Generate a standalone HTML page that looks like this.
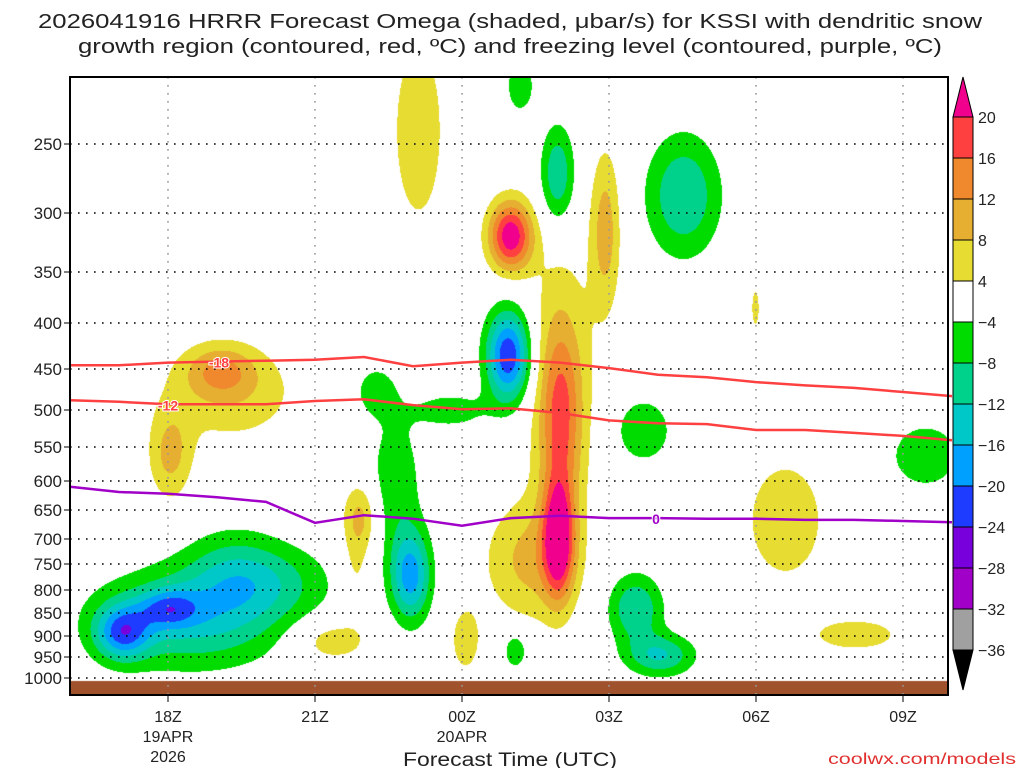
<!DOCTYPE html>
<html><head><meta charset="utf-8"><style>
body{margin:0;background:#fff;width:1024px;height:768px;overflow:hidden;font-family:"Liberation Sans",sans-serif}
#wrap{position:relative;width:1024px;height:768px}
canvas,svg{position:absolute;left:0;top:0}
</style></head><body><div id="wrap">
<canvas id="cv" width="1024" height="768"></canvas>
<svg id="sv" width="1024" height="768"></svg>
</div>
<script>
// ---- data ----
const pTicks=[250,300,350,400,450,500,550,600,650,700,750,800,850,900,950,1000];
const timeTickHours=[2,5,8,11,14,17];
const timeTickLabels=["18Z","21Z","00Z","03Z","06Z","09Z"];
const cbLevels=[20,16,12,8,4,-4,-8,-12,-16,-20,-24,-28,-32,-36];
const lineHours=[0,1,2,3,4,5,6,7,8,9,10,11,12,13,14,15,16,17,18];
const isoM18=[446,446,443,442,441,440,437,447,443,440,443,449,457,460,466,470,473,478,483];
const isoM12=[488,490,493,493,493,489,487,494,499,498,504,514,518,519,527,527,531,535,541];
const iso0=[610,619,622,628,636,672,659,665,677,664,660,664,664,665,665,667,667,669,671];
// omega features: [hour, pressure hPa, amplitude ubar/s, spread hours, spread lnP]
const omegaBlobs=[
[1.06,891,-17,0.55,0.07],[2.0,839,-11,0.6,0.05],[2.45,860,-13,1.9,0.13],[4.08,781,-7,1.3,0.1],[3.3,760,-6,1.0,0.12],
[6.94,771,-18,0.41,0.119],[6.63,599,-7,0.55,0.185],[6.22,476,-6,0.45,0.07],[7.76,500,-6,0.82,0.053],
[8.94,435,-24,0.45,0.119],[9.18,214,-7,0.31,0.079],[9.94,272,-12,0.35,0.13],[12.51,287,-12,0.75,0.16],
[11.69,527,-7.5,0.6,0.09],[17.45,562,-7.5,0.75,0.09],[11.53,839,-12,0.55,0.09],[12.04,945,-12,0.7,0.055],
[9.08,933,-8,0.25,0.05],
[7.1,241,8,0.52,0.25],[8.98,319,23,0.45,0.092],[10.92,314,10,0.31,0.211],[9.96,702,21,0.31,0.15],
[10.0,514,12,0.41,0.237],[9.39,742,9,0.95,0.158],[10.0,463,7,0.71,0.369],[8.06,910,6,0.35,0.1],
[13.98,385,6,0.1,0.066],[3.06,451,9,0.71,0.066],[2.04,562,9,0.45,0.12],[3.27,480,7,1.4,0.13],
[5.92,659,9,0.35,0.09],[5.82,762,5,0.3,0.12],[5.31,910,7,0.8,0.06],[14.59,667,8,0.8,0.16],
[16.02,896,7,0.95,0.045]
];
// ---- layout ----
const X0=70,X1=948,Y0=77,Y1=695,HPX=49;
const tickY=[144,213,272,323,369,410,447,481,510,539,564,590,613,636,657,678];
const LNPX=379;
function xOf(h){return X0+h*HPX;}
function yOf(p){
  if(p<=pTicks[0])return tickY[0]-LNPX*Math.log(pTicks[0]/p);
  for(let i=0;i<pTicks.length-1;i++){if(p<=pTicks[i+1]){const f=(p-pTicks[i])/(pTicks[i+1]-pTicks[i]);return tickY[i]+f*(tickY[i+1]-tickY[i]);}}
  return tickY[tickY.length-1]+(p-1000)*0.42;
}
const fillCols=["#f0008c","#ff4040","#f0882d","#e6af32","#e6dc32","#ffffff","#00dc00","#00d28c","#00c8c8","#00a0ff","#1e3cff","#7800dc","#a000c8","#a0a0a0","#000000"];
// ---- shading ----
const cv=document.getElementById('cv'),ctx=cv.getContext('2d');
const W=X1-X0,H=Y1-Y0,img=ctx.createImageData(W,H);
const bl=omegaBlobs.map(b=>({x:xOf(b[0]),y:yOf(b[1]),a:b[2],sx:b[3]*HPX,sy:b[4]*LNPX}));
function hex(c){return[parseInt(c.substr(1,2),16),parseInt(c.substr(3,2),16),parseInt(c.substr(5,2),16)];}
const rgb=fillCols.map(hex);
for(let j=0;j<H;j++){const py=Y0+j;for(let i=0;i<W;i++){const px=X0+i;let v=0;
 for(const b of bl){const dx=(px-b.x)/b.sx,dy=(py-b.y)/b.sy;const d=dx*dx+dy*dy;if(d<9)v+=b.a*Math.exp(-d);}
 let k=14;for(let l=0;l<cbLevels.length;l++){if(v>cbLevels[l]){k=l;break;}}
 const c=rgb[k],o=(j*W+i)*4;img.data[o]=c[0];img.data[o+1]=c[1];img.data[o+2]=c[2];img.data[o+3]=255;}}
ctx.putImageData(img,X0,Y0);
ctx.fillStyle="#a0522d";ctx.fillRect(X0,681,W,Y1-681);
// ---- svg ----
const NS="http://www.w3.org/2000/svg",sv=document.getElementById('sv');
function mk(t,a,parent){const e=document.createElementNS(NS,t);for(const k in a)e.setAttribute(k,a[k]);(parent||sv).appendChild(e);return e;}
let e;
pTicks.forEach((p,i)=>{const y=yOf(p);
 e=mk('line',{x1:X0,x2:X1,y1:y,y2:y,stroke:'#000','stroke-width':1.6,'stroke-dasharray':'1.6 6.4'});
 
 
 e=mk('line',{x1:X0-6,x2:X0,y1:y,y2:y,stroke:'#000','stroke-width':1});
 
 
 e=mk('text',{x:X0-8,y:y+6,'text-anchor':'end','font-size':17,fill:'#222'});e.textContent=String(p);
 
 
});
timeTickHours.forEach((h,i)=>{const x=xOf(h);
 e=mk('line',{x1:x,x2:x,y1:Y0,y2:Y1,stroke:'#999','stroke-width':1.6,'stroke-dasharray':'1.6 6.4'});
 
 
 e=mk('line',{x1:x,x2:x,y1:Y1,y2:Y1+7,stroke:'#000','stroke-width':1});
 
 
 e=mk('text',{x:x,y:722,'text-anchor':'middle','font-size':16,fill:'#222'});e.textContent=timeTickLabels[i];
 
 
});
[[2,"19APR",742],[2,"2026",762],[8,"20APR",742]].forEach(d=>{e=mk('text',{x:xOf(d[0]),y:d[2],'text-anchor':'middle','font-size':16,fill:'#222'});e.textContent=d[1];
 
 });
function iso(arr,col,name,lh,label){
 const d=arr.map((p,i)=>(i?'L':'M')+xOf(lineHours[i]).toFixed(1)+','+yOf(p).toFixed(1)).join(' ');
 e=mk('path',{d:d,fill:'none',stroke:col,'stroke-width':2.5});
 
 
 const i0=Math.floor(lh),f=lh-i0,p=arr[i0]+f*(arr[i0+1]-arr[i0]);const x=xOf(lh),y=yOf(p);
 e=mk('text',{x:x,y:y+6,'text-anchor':'middle','font-size':14,'font-weight':'bold',fill:col,stroke:'#fff','stroke-width':2,'paint-order':'stroke'});e.textContent=label;
 
 
}
iso(isoM18,'#ff4040','isotherm-minus18',3.04,'-18');
iso(isoM12,'#ff4040','isotherm-minus12',2.0,'-12');
iso(iso0,'#a000c8','freezing-level',11.96,'0');
e=mk('rect',{x:X0,y:Y0,width:W,height:H,fill:'none',stroke:'#000','stroke-width':2});


const CB0=953,CBW=20,cbY0=117,cbStep=41;
const cbg=mk('g',{});
e=mk('polygon',{points:`${CB0},${cbY0} ${CB0+CBW},${cbY0} ${CB0+CBW/2},77`,fill:fillCols[0],stroke:'#000','stroke-width':1},cbg);


for(let i=0;i<cbLevels.length-1;i++){
 e=mk('rect',{x:CB0,y:cbY0+i*cbStep,width:CBW,height:cbStep,fill:fillCols[i+1],stroke:'#000','stroke-width':1},cbg);
 
 
}
const cbEnd=cbY0+(cbLevels.length-1)*cbStep;
e=mk('polygon',{points:`${CB0},${cbEnd} ${CB0+CBW},${cbEnd} ${CB0+CBW/2},690`,fill:'#000',stroke:'#000','stroke-width':1},cbg);


cbLevels.forEach((l,i)=>{e=mk('text',{x:978,y:cbY0+i*cbStep+6,'font-size':16,fill:'#222'},cbg);e.textContent=(l<0?'\u2212':'')+Math.abs(l);
 
 });
e=mk('text',{x:510,y:28,'text-anchor':'middle','font-size':20,fill:'#222',textLength:944,lengthAdjust:'spacingAndGlyphs'});e.textContent='2026041916 HRRR Forecast Omega (shaded, \u03bcbar/s) for KSSI with dendritic snow';

e=mk('text',{x:510,y:53,'text-anchor':'middle','font-size':20,fill:'#222',textLength:864,lengthAdjust:'spacingAndGlyphs'});e.textContent='growth region (contoured, red, \u00baC) and freezing level (contoured, purple, \u00baC)';

e=mk('text',{x:510,y:766,'text-anchor':'middle','font-size':19,fill:'#222',textLength:214,lengthAdjust:'spacingAndGlyphs'});e.textContent='Forecast Time (UTC)';

e=mk('text',{x:1016,y:764,'text-anchor':'end','font-size':16,fill:'#e03030',textLength:188,lengthAdjust:'spacingAndGlyphs'});e.textContent='coolwx.com/models';

</script></body></html>
